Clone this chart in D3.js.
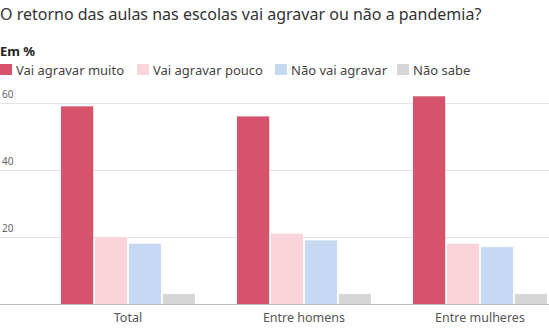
<!DOCTYPE html>
<html>
<head>
<meta charset="utf-8">
<script src="https://cdn.jsdelivr.net/npm/d3@7"></script>
<style>
	body { margin: 0; background: #fff; }
	svg { display: block; font-family: "Noto Sans", sans-serif; }
</style>
</head>
<body>
<svg id="chart"></svg>
<script>
const categories = ['Total', 'Entre homens', 'Entre mulheres']
const series = ['Vai agravar muito', 'Vai agravar pouco', 'Não vai agravar', 'Não sabe']
const muito = [59, 56, 62]
const pouco = [20, 21, 18]
const naoVai = [18, 19, 17]
const naoSabe = [3, 3, 3]
const yTicks = [20, 40, 60]
const colors = ['#d5546b', '#fad4db', '#c5daf2', '#d6d6d6']

const values = [muito, pouco, naoVai, naoSabe]

const width = 549, height = 328
const svg = d3.select('#chart')
	.attr('width', width)
	.attr('height', height)

// title
svg.append('text')
	.attr('x', 0)
	.attr('y', 20)
	.attr('font-size', 16)
	.attr('fill', '#333')
	.text('O retorno das aulas nas escolas vai agravar ou não a pandemia?')

svg.append('text')
	.attr('x', 0)
	.attr('y', 56)
	.attr('font-size', 13)
	.attr('font-weight', 'bold')
	.attr('fill', '#222')
	.text('Em %')

// legend
const legendX = [0, 137, 275, 397]
const legend = svg.selectAll('.legend')
	.data(series)
	.join('g')
	.attr('class', 'legend')
	.attr('transform', (d, i) => `translate(${legendX[i]},64)`)
legend.append('rect')
	.attr('width', 12)
	.attr('height', 11)
	.attr('fill', (d, i) => colors[i])
legend.append('text')
	.attr('x', 16)
	.attr('y', 11)
	.attr('font-size', 13)
	.attr('fill', '#444')
	.text(d => d)

// scales
const y = d3.scaleLinear()
	.domain([0, 60])
	.range([304, 103])

const x = d3.scaleBand()
	.domain(categories)
	.range([40, 568])

const groupWidth = 134
const xs = d3.scaleBand()
	.domain(series)
	.range([0, groupWidth])
	.paddingInner(0.05)

// grid
svg.append('g')
	.selectAll('line')
	.data(yTicks)
	.join('line')
	.attr('x1', 0)
	.attr('x2', width)
	.attr('y1', d => y(d) + 0.5)
	.attr('y2', d => y(d) + 0.5)
	.attr('stroke', '#e4e4e4')

svg.append('g')
	.selectAll('text')
	.data(yTicks)
	.join('text')
	.attr('x', 2)
	.attr('y', d => y(d) - 5)
	.attr('font-size', 10)
	.attr('fill', '#666')
	.text(d => d)

// bars
const groups = svg.selectAll('.group')
	.data(categories)
	.join('g')
	.attr('class', 'group')
	.attr('transform', d => `translate(${x(d) + (x.bandwidth() - groupWidth) / 2},0)`)

groups.selectAll('rect')
	.data((d, i) => series.map((s, j) => ({ s: s, v: values[j][i], c: colors[j] })))
	.join('rect')
	.attr('x', d => xs(d.s))
	.attr('width', xs.bandwidth())
	.attr('y', d => y(d.v))
	.attr('height', d => y(0) - y(d.v))
	.attr('fill', d => d.c)

// baseline
svg.append('line')
	.attr('x1', 0)
	.attr('x2', width)
	.attr('y1', y(0) + 0.5)
	.attr('y2', y(0) + 0.5)
	.attr('stroke', '#bbb')

// category labels
svg.append('g')
	.selectAll('text')
	.data(categories)
	.join('text')
	.attr('x', d => x(d) + x.bandwidth() / 2)
	.attr('y', 322)
	.attr('text-anchor', 'middle')
	.attr('font-size', 12.5)
	.attr('fill', '#555')
	.text(d => d)
</script>
</body>
</html>
